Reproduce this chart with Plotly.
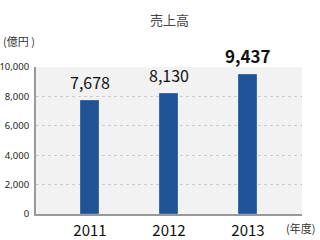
import plotly.graph_objects as go

years = [2011, 2012, 2013]
year_labels = ["2011", "2012", "2013"]
sales = [7678, 8130, 9437]
value_labels = ["7,678", "8,130", "<b>9,437</b>"]
label_sizes = [16, 16, 17]
y_ticks = [0, 2000, 4000, 6000, 8000, 10000]
y_tick_labels = ["0", "2,000", "4,000", "6,000", "8,000", "10,000"]

fig = go.Figure()
fig.add_trace(go.Bar(
    x=years, y=sales, width=0.23,
    marker=dict(color="#1f5396", line=dict(color="#3a6aa8", width=1)),
    hoverinfo="skip",
))
for x, y, t, s in zip(years, sales, value_labels, label_sizes):
    fig.add_annotation(x=x, y=y, text=t, showarrow=False, yanchor="bottom",
                       yshift=5, font=dict(size=s, color="#111"))

fig.add_annotation(xref="paper", yref="paper", x=0.5, y=1, yshift=48,
                   text="売上高", showarrow=False, xanchor="center", yanchor="middle",
                   font=dict(size=13, color="#444"))
fig.add_annotation(xref="paper", yref="paper", x=0, xshift=-35, y=1, yshift=26,
                   text="(億円 )", showarrow=False, xanchor="left", yanchor="middle",
                   font=dict(size=11, color="#333"))
fig.add_annotation(xref="paper", yref="paper", x=1, xshift=-18, y=0, yshift=-14,
                   text="(年度)", showarrow=False, xanchor="left", yanchor="middle",
                   font=dict(size=11, color="#333"))

fig.update_layout(
    width=320, height=240,
    margin=dict(l=36, r=18, t=67, b=26),
    paper_bgcolor="white", plot_bgcolor="#f2f2f2",
    showlegend=False,
    font=dict(family="Noto Sans CJK JP, Noto Sans, sans-serif"),
    bargap=0,
)
fig.update_xaxes(range=[2011 - 0.684, 2013 + 0.684], tickvals=years, ticktext=year_labels,
                 showgrid=False, showline=True, linecolor="#999", linewidth=2,
                 ticks="", tickfont=dict(size=15, color="#111"), zeroline=False,
                 ticklabelstandoff=2, automargin=False)
fig.update_yaxes(range=[0, 10000], tickvals=y_ticks, ticktext=y_tick_labels,
                 showgrid=True, gridcolor="#cccccc", griddash="dot", gridwidth=1,
                 showline=True, linecolor="#999", linewidth=2, zeroline=False,
                 ticks="", ticklabelstandoff=3,
                 tickfont=dict(size=9.5, color="#222", family="Noto Sans, sans-serif"),
                 automargin=False)

fig.write_html("out.html")
